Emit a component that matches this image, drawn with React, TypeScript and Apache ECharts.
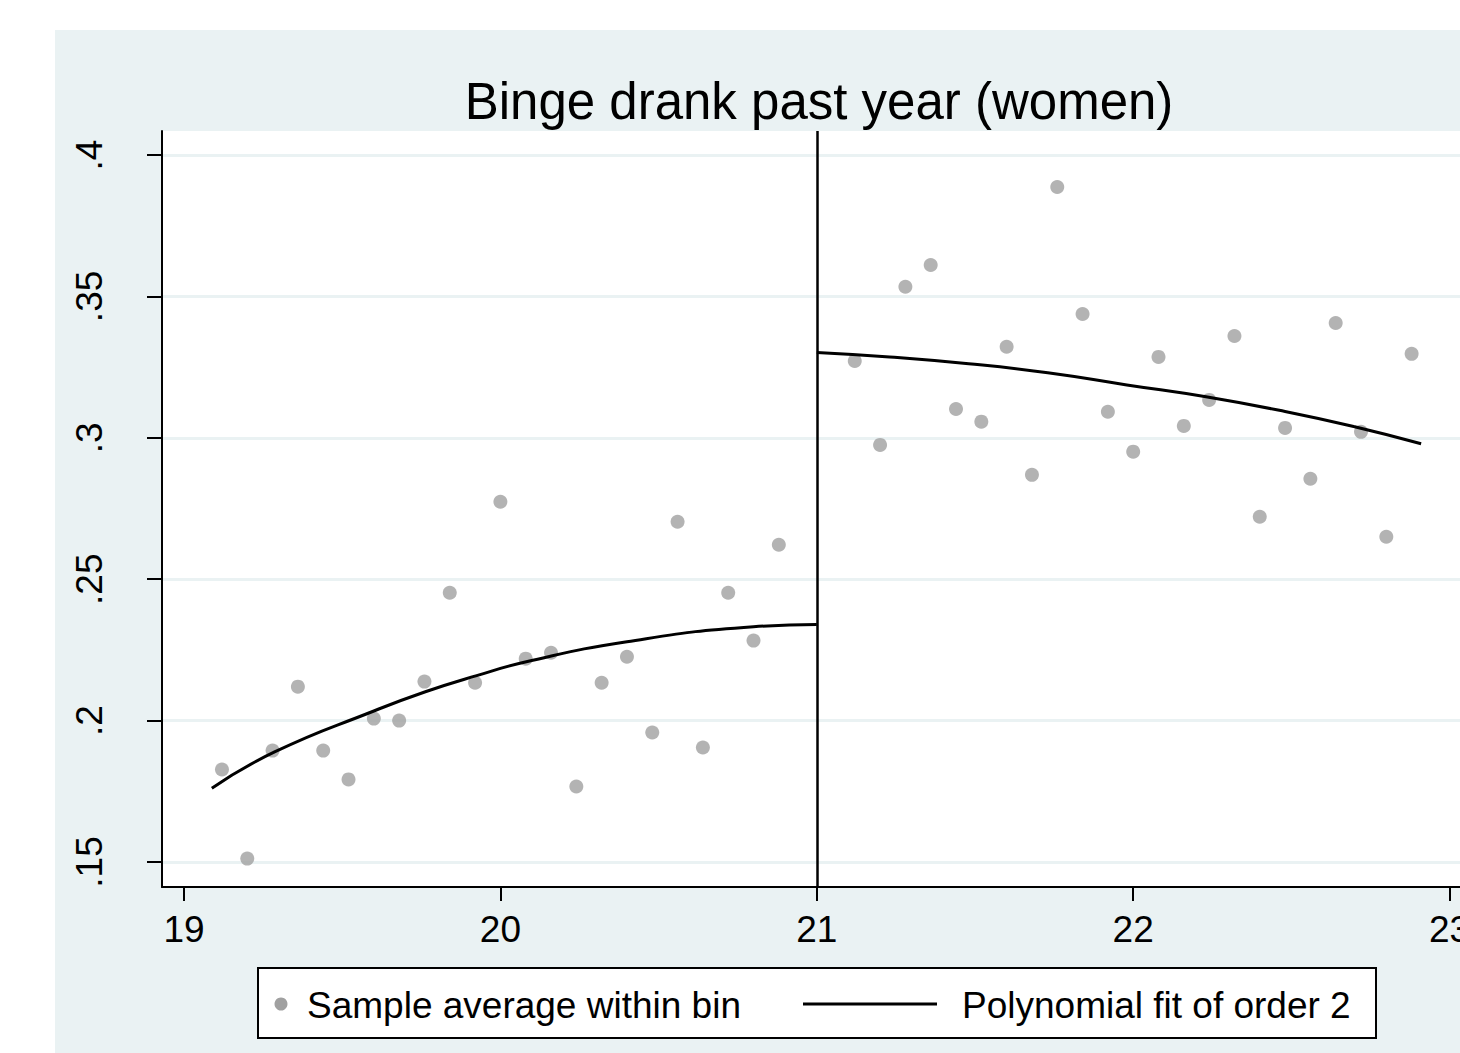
import React, { useEffect, useRef } from "react";
import * as echarts from "echarts";

// ---- data ----
const titleText = "Binge drank past year (women)";
const legendLabels = ["Sample average within bin", "Polynomial fit of order 2"];

const xTicks = [19, 20, 21, 22, 23];
const yTicks = [0.15, 0.2, 0.25, 0.3, 0.35, 0.4];
const yTickLabels = [".15", ".2", ".25", ".3", ".35", ".4"];

const cutoff = 21;

const leftBinX = [19.12, 19.2, 19.28, 19.36, 19.44, 19.52, 19.6, 19.68, 19.76, 19.84, 19.92, 20.0,
  20.08, 20.16, 20.24, 20.32, 20.4, 20.48, 20.56, 20.64, 20.72, 20.8, 20.88];
const leftBinY = [0.1827, 0.1512, 0.1894, 0.212, 0.1894, 0.1792, 0.2007, 0.2, 0.2138, 0.2452, 0.2134, 0.2774,
  0.2219, 0.224, 0.1767, 0.2134, 0.2226, 0.1958, 0.2703, 0.1905, 0.2452, 0.2283, 0.2622];

const rightBinX = [21.12, 21.2, 21.28, 21.36, 21.44, 21.52, 21.6, 21.68, 21.76, 21.84, 21.92, 22.0,
  22.08, 22.16, 22.24, 22.32, 22.4, 22.48, 22.56, 22.64, 22.72, 22.8, 22.88];
const rightBinY = [0.3272, 0.2975, 0.3534, 0.3611, 0.3102, 0.3057, 0.3322, 0.2869, 0.3887, 0.3438, 0.3092, 0.2951,
  0.3286, 0.3042, 0.3134, 0.336, 0.2721, 0.3035, 0.2855, 0.3406, 0.3021, 0.265, 0.3297];

const leftFitX = [19.088, 19.288, 19.6, 19.763, 19.925, 20.082, 20.4, 20.8, 21.0];
const leftFitY = [0.1761, 0.189, 0.2034, 0.2102, 0.2159, 0.2208, 0.2279, 0.2332, 0.234];

const rightFitX = [21.0, 21.23, 21.48, 21.73, 21.98, 22.23, 22.48, 22.7, 22.91];
const rightFitY = [0.3302, 0.3286, 0.3262, 0.323, 0.3187, 0.3145, 0.3093, 0.3039, 0.2979];

const FONT = "'Liberation Sans', Arial, Helvetica, sans-serif";
const BG = "#EAF2F3";
const DOT = "#A0A0A0";

export default function App() {
  const ref = useRef<HTMLDivElement>(null);

  useEffect(() => {
    if (!ref.current) return;
    const chart = echarts.init(ref.current, undefined, { renderer: "svg" });

    const pairs = (xs: number[], ys: number[]) => xs.map((x, i) => [x, ys[i]]);
    const bins = pairs(leftBinX, leftBinY).concat(pairs(rightBinX, rightBinY));

    chart.setOption({
      animation: false,
      textStyle: { fontFamily: FONT },
      grid: {
        left: 162,
        top: 131,
        right: 0,
        bottom: 166,
        show: true,
        backgroundColor: "#ffffff",
        borderWidth: 0,
        containLabel: false,
        outerBoundsMode: "none",
      },
      xAxis: {
        type: "value",
        min: 18.9305,
        max: 23.0329,
        axisLine: { show: true, onZero: false, lineStyle: { color: "#000", width: 2 } },
        axisTick: { show: true, length: 14, customValues: xTicks, lineStyle: { color: "#000", width: 2 } },
        axisLabel: {
          customValues: xTicks,
          fontSize: 37,
          color: "#000",
          margin: 24,
          fontFamily: FONT,
          hideOverlap: false,
        },
        splitLine: { show: false },
      },
      yAxis: {
        type: "value",
        min: 0.14116,
        max: 0.40849,
        axisLine: { show: true, onZero: false, lineStyle: { color: "#000", width: 2 } },
        axisTick: { show: true, length: 15, customValues: yTicks, lineStyle: { color: "#000", width: 2 } },
        axisLabel: {
          customValues: yTicks,
          fontSize: 37,
          color: "#000",
          rotate: 90,
          margin: 54,
          fontFamily: FONT,
          formatter: (v: number) => {
            const idx = yTicks.findIndex((t) => Math.abs(t - v) < 1e-9);
            return idx >= 0 ? yTickLabels[idx] : "";
          },
        },
        splitLine: { show: true, lineStyle: { color: BG, width: 3 } },
      },
      series: [
        {
          name: legendLabels[0],
          type: "scatter",
          data: bins,
          symbol: "circle",
          symbolSize: 14,
          itemStyle: { color: DOT },
          markLine: {
            silent: true,
            symbol: ["none", "none"],
            label: { show: false },
            lineStyle: { color: "#000", width: 2.5, type: "solid" },
            data: [{ xAxis: cutoff }],
          },
        },
        {
          name: legendLabels[1],
          type: "line",
          data: pairs(leftFitX, leftFitY),
          smooth: 0.5,
          showSymbol: false,
          symbol: "none",
          lineStyle: { color: "#000", width: 3 },
        },
        {
          name: legendLabels[1] + " ",
          type: "line",
          data: pairs(rightFitX, rightFitY),
          smooth: 0.5,
          showSymbol: false,
          symbol: "none",
          lineStyle: { color: "#000", width: 3 },
        },
      ],
      graphic: [
        {
          type: "text",
          x: 819,
          y: 101,
          style: {
            text: titleText,
            fontSize: 51,
            fontFamily: FONT,
            fill: "#000",
            textAlign: "center",
            textVerticalAlign: "middle",
          },
        },
        {
          type: "rect",
          shape: { x: 258, y: 968, width: 1118, height: 70 },
          style: { fill: "#fff", stroke: "#000", lineWidth: 2 },
        },
        {
          type: "circle",
          shape: { cx: 281, cy: 1004, r: 6.5 },
          style: { fill: DOT },
        },
        {
          type: "text",
          x: 307,
          y: 1005,
          style: {
            text: legendLabels[0],
            fontSize: 37,
            fontFamily: FONT,
            fill: "#000",
            textVerticalAlign: "middle",
          },
        },
        {
          type: "line",
          shape: { x1: 803, y1: 1004, x2: 937, y2: 1004 },
          style: { stroke: "#000", lineWidth: 3 },
        },
        {
          type: "text",
          x: 962,
          y: 1005,
          style: {
            text: legendLabels[1],
            fontSize: 37,
            fontFamily: FONT,
            fill: "#000",
            textVerticalAlign: "middle",
          },
        },
      ],
    });

    return () => chart.dispose();
  }, []);

  return (
    <div
      ref={ref}
      style={{
        position: "fixed",
        left: 0,
        top: 0,
        width: 1460,
        height: 1053,
        background: `linear-gradient(${BG}, ${BG}) 55px 30px / 1405px 1023px no-repeat, #ffffff`,
      }}
    />
  );
}
